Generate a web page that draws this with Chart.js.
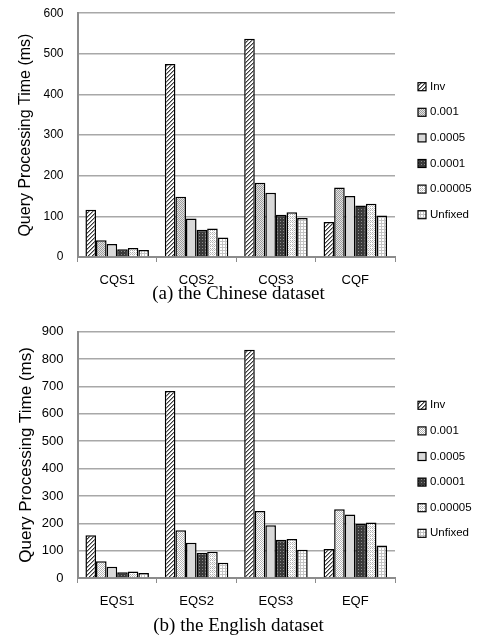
<!DOCTYPE html>
<html>
<head>
<meta charset="utf-8">
<script src="https://cdn.jsdelivr.net/npm/chart.js@4.4.1/dist/chart.umd.min.js"></script>
<style>
  html, body { margin: 0; padding: 0; background: #fff; }
  body { width: 477px; height: 639px; position: relative; overflow: hidden; }
  .box { position: absolute; left: 0; width: 477px; }
  .caption { position: absolute; left: 0; width: 477px; text-align: center;
             font-family: "Liberation Serif", "Times New Roman", serif; font-size: 19px; color: #000; }
</style>
</head>
<body>
<div class="box" style="top:-8px; height:297px;"><canvas id="chartA"></canvas></div>
<div class="caption" style="top:282px;">(a) the Chinese dataset</div>
<div class="box" style="top:310px; height:300px;"><canvas id="chartB"></canvas></div>
<div class="caption" style="top:614px;">(b) the English dataset</div>
<script>
// Series and categories
const seriesNames = ['Inv', '0.001', '0.0005', '0.0001', '0.00005', 'Unfixed'];

const categoriesChinese = ['CQS1', 'CQS2', 'CQS3', 'CQF'];
const chineseInv     = [116, 475, 537, 86];
const chinese001     = [41, 148, 183, 171];
const chinese0005    = [32, 95, 158, 150];
const chinese0001    = [19, 67, 104, 127];
const chinese00005   = [22, 70, 110, 131];
const chineseUnfixed = [17, 48, 96, 102];

const categoriesEnglish = ['EQS1', 'EQS2', 'EQS3', 'EQF'];
const englishInv     = [156, 684, 834, 106];
const english001     = [61, 175, 245, 251];
const english0005    = [41, 129, 193, 232];
const english0001    = [21, 92, 140, 198];
const english00005   = [24, 96, 143, 203];
const englishUnfixed = [18, 56, 103, 119];

const yTicksChinese = { max: 600, step: 100 };
const yTicksEnglish = { max: 900, step: 100 };

// Fill patterns for the bars
function makePattern(size, paint) {
  const c = document.createElement('canvas');
  c.width = size; c.height = size;
  const g = c.getContext('2d');
  paint(g, size);
  return g.createPattern(c, 'repeat');
}
function px(g, x, y, col) { g.fillStyle = col; g.fillRect(x, y, 1, 1); }

function hatch() {
  return makePattern(4, (g, s) => {
    g.fillStyle = '#ffffff'; g.fillRect(0, 0, s, s);
    for (let i = 0; i < s; i++) px(g, i, s - 1 - i, '#3a3a3a');
    for (let i = 0; i < s; i++) px(g, (i + 1) % s, s - 1 - i, '#9a9a9a');
  });
}
function checker(dark, light) {
  return makePattern(2, (g) => {
    g.fillStyle = light; g.fillRect(0, 0, 2, 2);
    px(g, 0, 0, dark); px(g, 1, 1, dark);
  });
}
function solid(col) { return col; }
function darkDots() {
  return makePattern(3, (g, s) => {
    g.fillStyle = '#3a3a3a'; g.fillRect(0, 0, s, s);
    px(g, 1, 1, '#8a8a8a');
  });
}
function plaid() {
  return makePattern(4, (g, s) => {
    g.fillStyle = '#ffffff'; g.fillRect(0, 0, s, s);
    px(g, 0, 0, '#b0b0b0'); px(g, 2, 0, '#b0b0b0');
    px(g, 1, 1, '#c8c8c8'); px(g, 3, 1, '#c8c8c8');
    px(g, 0, 2, '#b0b0b0'); px(g, 2, 2, '#b0b0b0');
    px(g, 1, 3, '#d8d8d8');
  });
}
function grid() {
  return makePattern(3, (g, s) => {
    g.fillStyle = '#ffffff'; g.fillRect(0, 0, s, s);
    g.fillStyle = '#c4c4c4';
    g.fillRect(0, 0, s, 1); g.fillRect(0, 0, 1, s);
  });
}

const fillsChinese = [hatch(), checker('#9c9c9c', '#e4e4e4'), solid('#d9d9d9'), darkDots(), plaid(), grid()];
const fillsEnglish = [hatch(), checker('#b4b4b4', '#ffffff'), solid('#d9d9d9'), darkDots(), plaid(), grid()];

// Legend drawn to the right of the plot area
const sideLegend = {
  id: 'sideLegend',
  afterDraw(chart) {
    const ctx = chart.ctx;
    const area = chart.chartArea;
    const x = area.right + 23;
    ctx.save();
    ctx.font = '11.5px "Liberation Sans", Arial, sans-serif';
    ctx.textBaseline = 'middle';
    chart.data.datasets.forEach((ds, i) => {
      const y = area.top + 73.5 + i * 25.6;
      ctx.fillStyle = ds.backgroundColor;
      ctx.fillRect(x, y - 4, 8, 8);
      ctx.strokeStyle = '#000';
      ctx.lineWidth = 1.2;
      ctx.strokeRect(x, y - 4, 8, 8);
      ctx.fillStyle = '#000';
      ctx.fillText(ds.label, x + 12, y);
    });
    ctx.restore();
  }
};

function buildChart(id, categories, seriesValues, fills, yTicks, tickFont, titleFont) {
  const datasets = seriesNames.map((name, i) => ({
    label: name,
    data: seriesValues[i],
    backgroundColor: fills[i],
    borderColor: '#000',
    borderWidth: 1.5,
    categoryPercentage: 0.8,
    barPercentage: 1.0
  }));
  return new Chart(document.getElementById(id), {
    type: 'bar',
    data: { labels: categories, datasets },
    plugins: [sideLegend],
    options: {
      responsive: true,
      maintainAspectRatio: false,
      animation: false,
      layout: { padding: { left: 0, right: 82, top: 0, bottom: 0 } },
      plugins: { legend: { display: false }, tooltip: { enabled: false } },
      scales: {
        x: {
          grid: { display: true, drawOnChartArea: false, drawTicks: true, tickLength: 5, color: '#8c8c8c', offset: true },
          border: { display: true, color: '#8c8c8c', width: 2 },
          ticks: { color: '#000', font: { family: '"Liberation Sans", Arial, sans-serif', size: 13 }, padding: 11 },
          afterFit(scale) { scale.height = 32; }
        },
        y: {
          min: 0,
          max: yTicks.max,
          ticks: { stepSize: yTicks.step, color: '#000', padding: 14,
                   font: { family: '"Liberation Sans", Arial, sans-serif', size: tickFont } },
          grid: { color: '#a8a8a8', lineWidth: 1.5, drawTicks: false },
          border: { display: true, color: '#8c8c8c', width: 2 },
          title: { display: true, text: 'Query Processing Time (ms)', color: '#000',
                   font: { family: '"Liberation Sans", Arial, sans-serif', size: titleFont },
                   padding: { top: 16, bottom: 0 } },
          afterFit(scale) { scale.width = 77.5; }
        }
      }
    }
  });
}

buildChart('chartA', categoriesChinese,
  [chineseInv, chinese001, chinese0005, chinese0001, chinese00005, chineseUnfixed],
  fillsChinese, yTicksChinese, 12, 16);

buildChart('chartB', categoriesEnglish,
  [englishInv, english001, english0005, english0001, english00005, englishUnfixed],
  fillsEnglish, yTicksEnglish, 13, 17);
</script>
</body>
</html>
